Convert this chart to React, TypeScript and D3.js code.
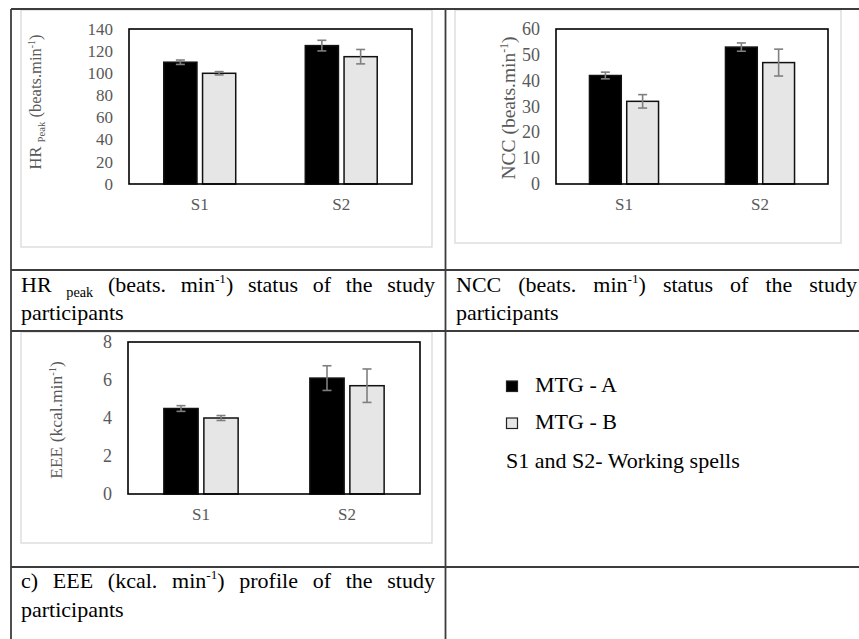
import React from 'react';
import * as d3 from 'd3';

// ---------- data ----------
const categories = ['S1', 'S2'];
const seriesNames = ['MTG - A', 'MTG - B'];
const seriesFills = ['#000000', '#e7e6e6'];

const hrA = [110, 125];
const hrAErr = [2, 4.8];
const hrB = [100, 115];
const hrBErr = [1.5, 6.5];
const hrTicks = [0, 20, 40, 60, 80, 100, 120, 140];

const nccA = [42, 53];
const nccAErr = [1.3, 1.6];
const nccB = [32, 47];
const nccBErr = [2.6, 5.2];
const nccTicks = [0, 10, 20, 30, 40, 50, 60];

const eeeA = [4.5, 6.1];
const eeeAErr = [0.15, 0.65];
const eeeB = [4.0, 5.7];
const eeeBErr = [0.13, 0.88];
const eeeTicks = [0, 2, 4, 6, 8];

const FONT = 'Liberation Serif, Times New Roman, Times, serif';
const GRAY_TEXT = '#595959';
const LINE = '#3c3c3c';

type Seg = { t: string; sc?: number; dy?: number };

let ctx: CanvasRenderingContext2D | null = null;
function measure(text: string, size: number): number {
  if (!ctx) {
    const c = document.createElement('canvas');
    ctx = c.getContext('2d');
  }
  if (!ctx) return text.length * size * 0.45;
  ctx.font = `${size}px "Liberation Serif"`;
  return ctx.measureText(text).width;
}

function wordWidth(w: Seg[], size: number) {
  return w.reduce((s, g) => s + measure(g.t, size * (g.sc ?? 1)), 0);
}

function Word({ w, x, y, size }: { w: Seg[]; x: number; y: number; size: number }) {
  let cur = 0;
  return (
    <text x={x} y={y} fontFamily={FONT} fontSize={size} fill="#000">
      {w.map((g, i) => {
        const dy = (g.dy ?? 0) - cur;
        cur = g.dy ?? 0;
        return (
          <tspan key={i} dy={dy} fontSize={size * (g.sc ?? 1)}>
            {g.t}
          </tspan>
        );
      })}
    </text>
  );
}

function JustLine({ words, x0, x1, y, size }: { words: Seg[][]; x0: number; x1: number; y: number; size: number }) {
  const widths = words.map((w) => wordWidth(w, size));
  const total = widths.reduce((a, b) => a + b, 0);
  const gap = words.length > 1 ? (x1 - x0 - total) / (words.length - 1) : 0;
  let x = x0;
  return (
    <g>
      {words.map((w, i) => {
        const el = <Word key={i} w={w} x={x} y={y} size={size} />;
        x += widths[i] + gap;
        return el;
      })}
    </g>
  );
}

type PanelProps = {
  box: [number, number, number, number];
  plot: [number, number, number, number];
  ticks: number[];
  a: number[];
  aErr: number[];
  b: number[];
  bErr: number[];
  tickSize: number;
  title: Seg[];
  titleSize: number;
  titleX: number;
  titleY: number;
};

function Panel(p: PanelProps) {
  const [px0, py0, px1, py1] = p.plot;
  const y = d3.scaleLinear().domain([0, d3.max(p.ticks) as number]).range([py1, py0]);
  const x = d3.scaleBand<string>().domain(categories).range([px0, px1]).padding(0);
  const bw = x.bandwidth();
  const barW = bw * 0.232;
  const gap = bw * 0.055;
  const inner = d3
    .scaleBand<string>()
    .domain(seriesNames)
    .range([0, barW * 2 + gap])
    .paddingInner(gap / (barW + gap / 2) / 2);
  const vals = [p.a, p.b];
  const errs = [p.aErr, p.bErr];
  let cur = 0;
  return (
    <g>
      <rect x={p.box[0]} y={p.box[1]} width={p.box[2] - p.box[0]} height={p.box[3] - p.box[1]} fill="#fff" stroke="#d9d9d9" strokeWidth={1.3} />
      {categories.map((c, ci) => {
        const gx = (x(c) as number) + bw / 2 - (barW * 2 + gap) / 2;
        return seriesNames.map((s, si) => {
          const bx = gx + (inner(s) as number);
          const iw = inner.bandwidth();
          const v = vals[si][ci];
          const e = errs[si][ci];
          const cx = bx + iw / 2;
          return (
            <g key={c + s}>
              <rect x={bx + 0.75} y={y(v)} width={iw - 1.5} height={y(0) - y(v)} fill={seriesFills[si]} stroke="#111" strokeWidth={1.5} />
              <line x1={cx} x2={cx} y1={y(v + e)} y2={y(v - e)} stroke="#7f7f7f" strokeWidth={1.6} />
              <line x1={cx - 4.5} x2={cx + 4.5} y1={y(v + e)} y2={y(v + e)} stroke="#7f7f7f" strokeWidth={1.6} />
              <line x1={cx - 4.5} x2={cx + 4.5} y1={y(v - e)} y2={y(v - e)} stroke="#7f7f7f" strokeWidth={1.6} />
            </g>
          );
        });
      })}
      <rect x={px0} y={py0} width={px1 - px0} height={py1 - py0} fill="none" stroke="#000" strokeWidth={1.6} />
      {p.ticks.map((t) => (
        <text key={t} x={px0 - 16} y={y(t)} dy="0.34em" textAnchor="end" fontFamily={FONT} fontSize={p.tickSize} fill={GRAY_TEXT}>
          {t}
        </text>
      ))}
      {categories.map((c) => (
        <text key={c} x={(x(c) as number) + bw / 2} y={py1 + 26} textAnchor="middle" fontFamily={FONT} fontSize={17} fill={GRAY_TEXT}>
          {c}
        </text>
      ))}
      <text transform={`translate(${p.titleX},${p.titleY}) rotate(-90)`} textAnchor="middle" fontFamily={FONT} fontSize={p.titleSize} fill={GRAY_TEXT}>
        {p.title.map((g, i) => {
          const dy = (g.dy ?? 0) - cur;
          cur = g.dy ?? 0;
          return (
            <tspan key={i} dy={dy} fontSize={p.titleSize * (g.sc ?? 1)}>
              {g.t}
            </tspan>
          );
        })}
      </text>
    </g>
  );
}

export default function App() {
  const cap = 22;
  const sup = (t: string): Seg => ({ t, sc: 0.6, dy: -9 });
  const caption1: Seg[][] = [
    [{ t: 'HR' }],
    [{ t: 'peak', sc: 0.65, dy: 5 }],
    [{ t: '(beats.' }],
    [{ t: 'min' }, sup('-1'), { t: ')' }],
    [{ t: 'status' }],
    [{ t: 'of' }],
    [{ t: 'the' }],
    [{ t: 'study' }],
  ];
  const caption2: Seg[][] = [
    [{ t: 'NCC' }],
    [{ t: '(beats.' }],
    [{ t: 'min' }, sup('-1'), { t: ')' }],
    [{ t: 'status' }],
    [{ t: 'of' }],
    [{ t: 'the' }],
    [{ t: 'study' }],
  ];
  const caption3: Seg[][] = [
    [{ t: 'c)' }],
    [{ t: 'EEE' }],
    [{ t: '(kcal.' }],
    [{ t: 'min' }, sup('-1'), { t: ')' }],
    [{ t: 'profile' }],
    [{ t: 'of' }],
    [{ t: 'the' }],
    [{ t: 'study' }],
  ];
  const tsup = (t: string): Seg => ({ t, sc: 0.6, dy: -6 });
  return (
    <svg width={859} height={639} style={{ position: 'absolute', left: 0, top: 0, background: '#fff' }}>
      <rect x={0} y={0} width={859} height={639} fill="#fff" />
      <Panel
        box={[21, 10, 432, 247]}
        plot={[129, 29, 412, 184]}
        ticks={hrTicks}
        a={hrA}
        aErr={hrAErr}
        b={hrB}
        bErr={hrBErr}
        tickSize={17}
        title={[{ t: 'HR ' }, { t: 'Peak', sc: 0.65, dy: 4 }, { t: ' (beats.min', dy: 0 }, tsup('-1'), { t: ')', dy: 0 }]}
        titleSize={16.5}
        titleX={41}
        titleY={102}
      />
      <Panel
        box={[455, 10, 841, 243]}
        plot={[556, 29, 828, 184]}
        ticks={nccTicks}
        a={nccA}
        aErr={nccAErr}
        b={nccB}
        bErr={nccBErr}
        tickSize={18}
        title={[{ t: 'NCC (beats.min' }, { t: '-1', sc: 0.6, dy: -7 }, { t: ')', dy: 0 }]}
        titleSize={19.5}
        titleX={515}
        titleY={108}
      />
      <Panel
        box={[21, 332, 432, 543]}
        plot={[128, 342, 420, 494]}
        ticks={eeeTicks}
        a={eeeA}
        aErr={eeeAErr}
        b={eeeB}
        bErr={eeeBErr}
        tickSize={18}
        title={[{ t: 'EEE (kcal.min' }, tsup('-1'), { t: ')', dy: 0 }]}
        titleSize={17.5}
        titleX={62}
        titleY={420}
      />

      {/* table grid */}
      <g stroke={LINE} strokeWidth={1.8}>
        <line x1={11} x2={859} y1={9} y2={9} />
        <line x1={11} x2={859} y1={270} y2={270} />
        <line x1={11} x2={859} y1={331} y2={331} />
        <line x1={11} x2={859} y1={567} y2={567} />
        <line x1={11} x2={11} y1={9} y2={639} />
        <line x1={445.5} x2={445.5} y1={9} y2={639} />
      </g>

      {/* captions */}
      <JustLine words={caption1} x0={21} x1={435} y={292} size={cap} />
      <text x={21} y={320} fontFamily={FONT} fontSize={cap}>participants</text>
      <JustLine words={caption2} x0={456} x1={857} y={292} size={cap} />
      <text x={456} y={320} fontFamily={FONT} fontSize={cap}>participants</text>
      <JustLine words={caption3} x0={21} x1={435} y={588} size={cap} />
      <text x={21} y={617} fontFamily={FONT} fontSize={cap}>participants</text>

      {/* legend */}
      {seriesNames.map((s, i) => (
        <g key={s}>
          <rect x={506.5} y={381 + i * 37} width={11} height={10.5} fill={seriesFills[i]} stroke="#222" strokeWidth={1.2} />
          <text x={535} y={391.5 + i * 37} fontFamily={FONT} fontSize={cap} fill="#000">
            {s}
          </text>
        </g>
      ))}
      <text x={506} y={468} fontFamily={FONT} fontSize={cap} fill="#000">
        S1 and S2- Working spells
      </text>
    </svg>
  );
}
